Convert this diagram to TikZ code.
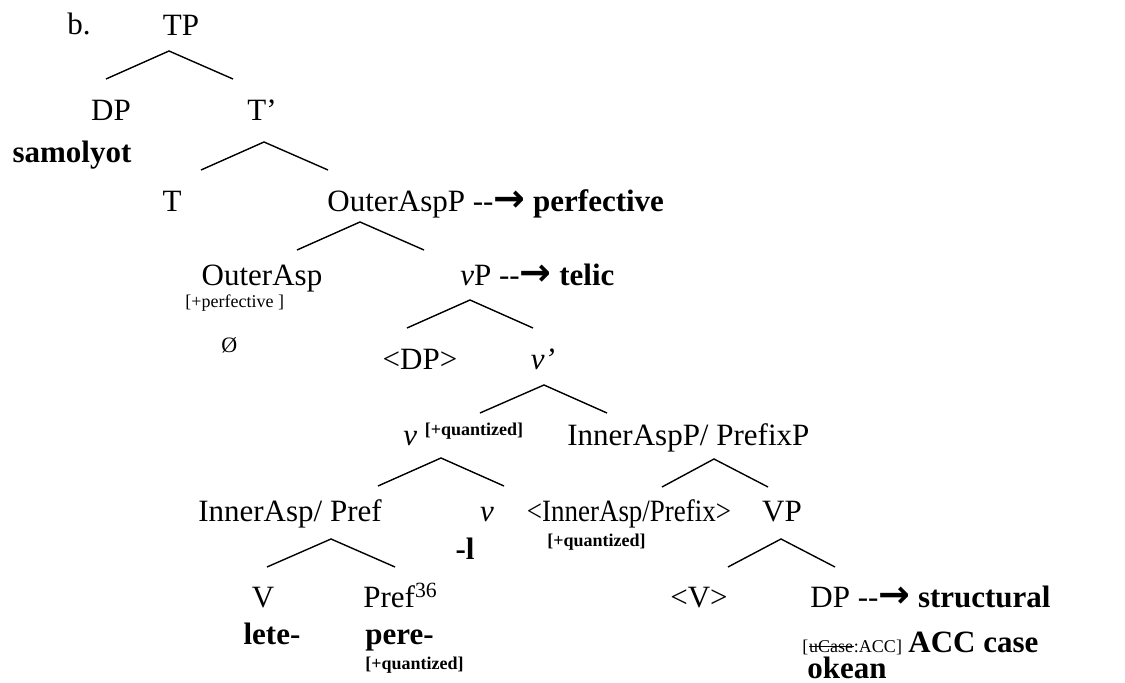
\documentclass[tikz,border=0pt]{standalone}
\usepackage{fontspec}
\setmainfont{Liberation Serif}
\newfontfamily\arrowfont{DejaVu Sans}
\usepackage{tikz}

\newcommand{\goesto}{-{}-{\arrowfont\bfseries\fontsize{19}{20}\selectfont →}}

\begin{document}
\begin{tikzpicture}[
  x=0.5pt, y=-0.5pt,
  lbl/.style = {inner sep=0pt, anchor=base, font=\fontsize{15.5}{18}\selectfont},
  lblw/.style = {lbl, anchor=base west},
  feat/.style = {inner sep=0pt, anchor=base west, font=\fontsize{9}{11}\selectfont},
  branch/.style = {line width=0.7pt}
]
  \useasboundingbox (0,0) rectangle (1125,683);

  % Upper part
  \node[lblw] (ex) at (67,35) {b.};
  \node[lbl] (tp) at (181,36) {TP};
  \node[lbl] (dp) at (111,121) {DP};
  \node[lbl] (tbar) at (262,121) {T’};
  \node[lbl, font=\fontsize{15.5}{18}\selectfont\bfseries] (samolyot) at (72,163) {samolyot};
  \node[lbl] (t) at (172,212) {T};
  \node[lblw] (outerp) at (327,212) {OuterAspP \goesto{} \textbf{perfective}};
  \node[lbl] (outer) at (262,286) {OuterAsp};
  \node[feat] (outerf) at (185,308) {[+perfective ]};
  \node[feat, font=\fontsize{11}{13}\selectfont] (nul) at (221,353) {Ø};
  \node[lblw] (vp) at (460,286) {\textit{v}P \goesto{} \textbf{telic}};

  % Middle part
  \node[lbl] (dptrace) at (420,370) {<DP>};
  \node[lbl] (vbar) at (543,370) {\textit{v’}};
  \node[lblw] (vq) at (403,446) {\textit{v} {\fontsize{9}{11}\selectfont\bfseries\raisebox{5pt}{[+quantized]}}};
  \node[lblw] (innerp) at (567,446) {InnerAspP/ PrefixP};
  \node[lbl] (inner) at (290,522) {InnerAsp/ Pref};
  \node[lbl] (vhead) at (487,522) {\textit{v}};
  \node[lbl, font=\fontsize{15.5}{18}\selectfont\bfseries] (suffl) at (465,560) {-l};
  \node[lbl] (innert) at (629,522) {\scalebox{0.87}[1]{<InnerAsp/Prefix>}};
  \node[feat, font=\fontsize{9}{11}\selectfont\bfseries] (innertf) at (547,547) {[+quantized]};
  \node[lbl] (vpb) at (782,522) {VP};

  % Lower part
  \node[lbl] (verb) at (263,608) {V};
  \node[lblw] (pref) at (363,608) {Pref\textsuperscript{36}};
  \node[lbl, font=\fontsize{15.5}{18}\selectfont\bfseries] (lete) at (272,645) {lete-};
  \node[lblw, font=\fontsize{15.5}{18}\selectfont\bfseries] (pere) at (365,645) {pere-};
  \node[feat, font=\fontsize{9}{11}\selectfont\bfseries] (peref) at (365,670) {[+quantized]};
  \node[lbl] (vtrace) at (699,608) {<V>};
  \node[lblw] (dpo) at (810,608) {DP \goesto{} \textbf{structural}};
  \node[feat] (ucaseL) at (802,653) {[};
  \node[feat] (ucase) at (ucaseL.base east) {uCase};
  \node[feat] (ucaseR) at (ucase.base east) {:ACC]};
  \draw[line width=0.5pt] ([yshift=3pt]ucase.base west) -- ([yshift=3pt]ucase.base east);
  \node[lblw, font=\fontsize{15.5}{18}\selectfont\bfseries] (acc) at (908,653) {ACC case};
  \node[lblw, font=\fontsize{15.5}{18}\selectfont\bfseries] (okean) at (807,679) {okean};

  % Branches
  \coordinate (tpA) at (169,51);
  \coordinate (tbarA) at (264,142);
  \coordinate (outerpA) at (360,222);
  \coordinate (vpA) at (470,300);
  \coordinate (vbarA) at (544,385);
  \coordinate (vqA) at (441,458);
  \coordinate (innerA) at (331,539);
  \coordinate (innerpA) at (714,459);
  \coordinate (vpbA) at (781,539);
  \foreach \a/\l/\r in {tpA/63/64, tbarA/63/64, outerpA/63/64, vpA/63/63,
                        vbarA/64/63, vqA/63/63, innerA/64/64, innerpA/52/54, vpbA/53/54}
    \draw[branch] (\a) ++(-\l,28) -- (\a) -- ++(\r,28);

\end{tikzpicture}
\end{document}
